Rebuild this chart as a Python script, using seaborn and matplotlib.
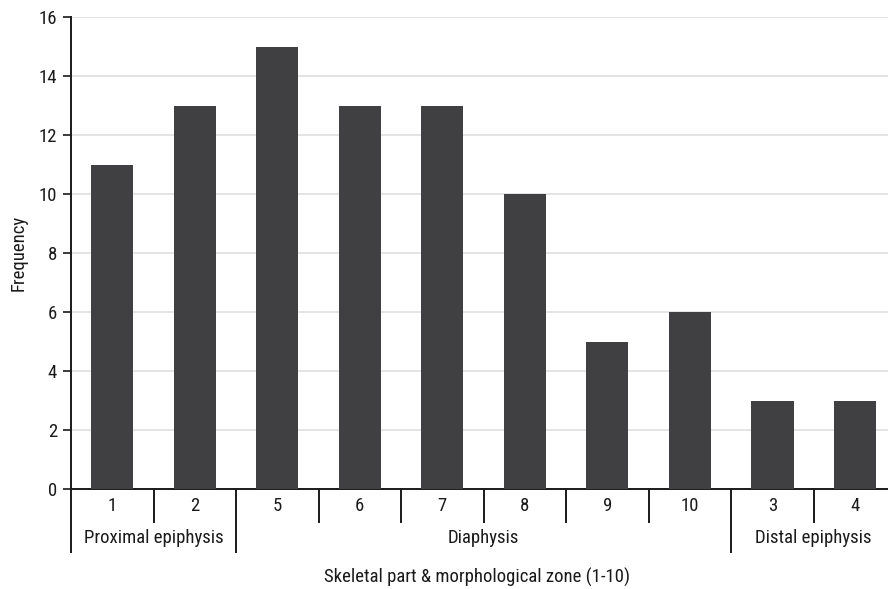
import matplotlib
matplotlib.use("Agg")
import matplotlib.pyplot as plt
import matplotlib.transforms as mtransforms
import seaborn as sns
import pandas as pd

zones = ["1", "2", "5", "6", "7", "8", "9", "10", "3", "4"]
frequency = [11, 13, 15, 13, 13, 10, 5, 6, 3, 3]
groups = ["Proximal epiphysis", "Diaphysis", "Distal epiphysis"]
group_sizes = [2, 6, 2]
yticks = [0, 2, 4, 6, 8, 10, 12, 14, 16]

sns.set_theme(style="white")
plt.rcParams["font.family"] = ["Roboto Condensed", "DejaVu Sans"]
FS = 13.5
TC = "#1a1a1a"

df = pd.DataFrame({"zone": zones, "freq": frequency})

fig = plt.figure(figsize=(8.88, 5.89), dpi=100)
ax = fig.add_axes([71 / 888, 1 - 489 / 589, 1 - 71 / 888, (489 - 17) / 589])
sns.barplot(data=df, x="zone", y="freq", order=zones, color="#404042",
            saturation=1, width=0.51, linewidth=0, ax=ax, zorder=3)

ax.set_ylim(0, 16)
ax.set_xlim(-0.5, 9.4)
ax.set_yticks(yticks)
ax.set_yticklabels([str(t) for t in yticks], fontsize=FS, color=TC)
ax.yaxis.grid(True, color="#e2e2e2", linewidth=1.3, zorder=0)
ax.set_axisbelow(True)
ax.tick_params(axis="y", left=True, length=6, width=1.2, color=TC, pad=4)
ax.tick_params(axis="x", bottom=False, labelbottom=False)
for s in ["top", "right"]:
    ax.spines[s].set_visible(False)
ax.spines["left"].set_color(TC)
ax.spines["left"].set_linewidth(1.4)
ax.spines["bottom"].set_color(TC)
ax.spines["bottom"].set_linewidth(1.4)
ax.set_xlabel("")
ax.set_ylabel("Frequency", fontsize=FS, color=TC, labelpad=8)

trans = mtransforms.blended_transform_factory(ax.transData, ax.transAxes)
y_short = -34 / 472
y_long = -64 / 472

ax.plot([-0.5, -0.5], [0, y_long], transform=trans, color=TC,
        lw=1.4, clip_on=False, solid_capstyle="butt")

boundaries = []
pos = 0
for g in group_sizes:
    pos += g
    boundaries.append(pos - 0.5)
for i, z in enumerate(zones):
    ax.text(i, -17 / 472, z, transform=trans, ha="center", va="center",
            fontsize=FS, color=TC)
    b = i + 0.5
    if b > len(zones) - 1:
        continue
    yb = y_long if b in boundaries else y_short
    ax.plot([b, b], [0, yb], transform=trans, color=TC, lw=1.4,
            clip_on=False, solid_capstyle="butt")

start = 0
centers = []
for g in group_sizes:
    centers.append(start + (g - 1) / 2)
    start += g
for gname, c in zip(groups, centers):
    ax.text(c, -49 / 472, gname, transform=trans, ha="center", va="center",
            fontsize=FS, color=TC)

fig.text(477 / 888, 1 - 577 / 589,
         "Skeletal part & morphological zone (1-10)", ha="center", va="center",
         fontsize=FS, color=TC)

fig.savefig("out.png", dpi=100)
